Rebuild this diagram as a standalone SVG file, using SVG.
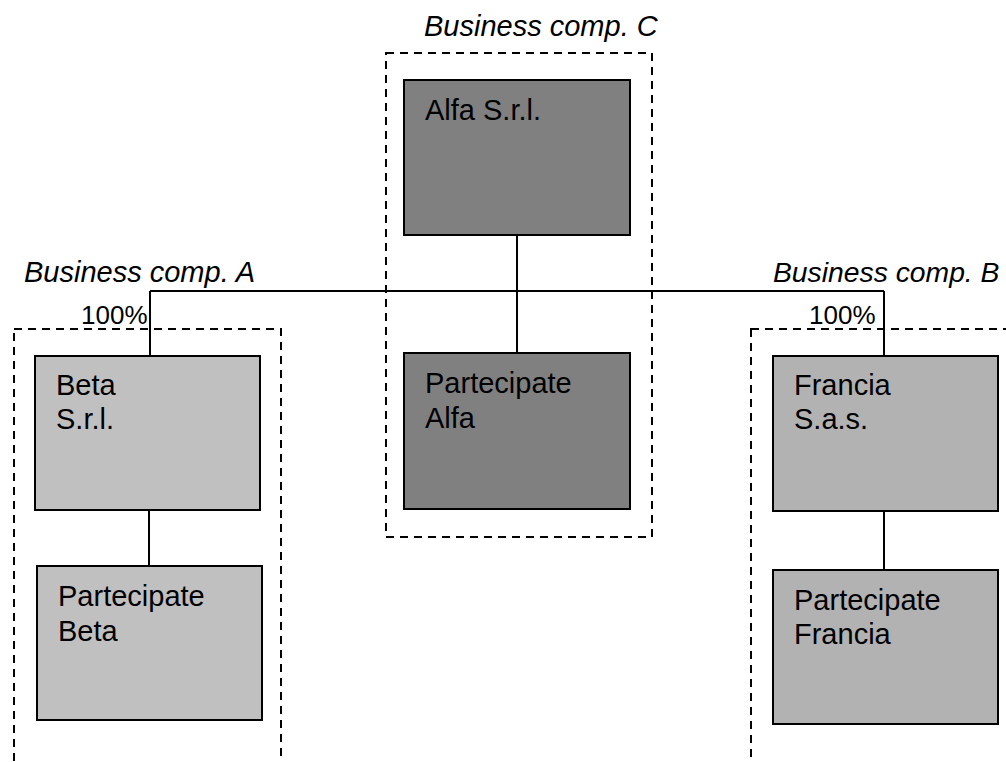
<svg xmlns="http://www.w3.org/2000/svg" width="1006" height="762" viewBox="0 0 1006 762">
<style>
.lbl{font-family:"Liberation Sans",Arial,sans-serif;font-size:29px;fill:#000}
.it{font-style:italic}
.pct{font-size:26px}
.box{stroke:#000;stroke-width:2}
.grp{fill:none;stroke:#000;stroke-width:2;stroke-dasharray:8,6}
.con{stroke:#000;stroke-width:2;fill:none}
</style>
<rect width="1006" height="762" fill="#fff"/>
<g id="groups">
<rect class="grp" x="14" y="329" width="267" height="460"/>
<rect class="grp" x="386" y="53" width="266" height="484"/>
<rect class="grp" x="751" y="329" width="300" height="460"/>
<text class="lbl it" x="424" y="36">Business comp. C</text>
<text class="lbl it" x="24" y="282">Business comp. A</text>
<text class="lbl it" x="773" y="282" style="font-size:28.3px">Business comp. B</text>
<text class="lbl pct" x="81" y="324">100%</text>
<text class="lbl pct" x="809" y="324">100%</text>
</g>
<g id="connectors">
<path class="con" d="M150,291 H884"/>
<path class="con" d="M150,291 V356"/>
<path class="con" d="M884,291 V356"/>
<path class="con" d="M517,235 V353"/>
<path class="con" d="M149,510 V566"/>
<path class="con" d="M884,511 V570"/>
</g>
<g id="alfa">
<rect class="box" x="404" y="80" width="226" height="155" fill="#808080"/>
<text class="lbl" x="425" y="120">Alfa S.r.l.</text>
</g>
<g id="partecipate-alfa">
<rect class="box" x="404" y="353" width="226" height="156" fill="#808080"/>
<text class="lbl" x="425" y="393">Partecipate</text>
<text class="lbl" x="425" y="428">Alfa</text>
</g>
<g id="beta">
<rect class="box" x="35" y="356" width="225" height="154" fill="#C0C0C0"/>
<text class="lbl" x="56" y="395">Beta</text>
<text class="lbl" x="56" y="429">S.r.l.</text>
</g>
<g id="partecipate-beta">
<rect class="box" x="37" y="566" width="225" height="154" fill="#C0C0C0"/>
<text class="lbl" x="58" y="606">Partecipate</text>
<text class="lbl" x="58" y="641">Beta</text>
</g>
<g id="francia">
<rect class="box" x="773" y="356" width="225" height="155" fill="#B2B2B2"/>
<text class="lbl" x="794" y="395">Francia</text>
<text class="lbl" x="794" y="429">S.a.s.</text>
</g>
<g id="partecipate-francia">
<rect class="box" x="773" y="570" width="225" height="154" fill="#B2B2B2"/>
<text class="lbl" x="794" y="610">Partecipate</text>
<text class="lbl" x="794" y="644">Francia</text>
</g>
</svg>
